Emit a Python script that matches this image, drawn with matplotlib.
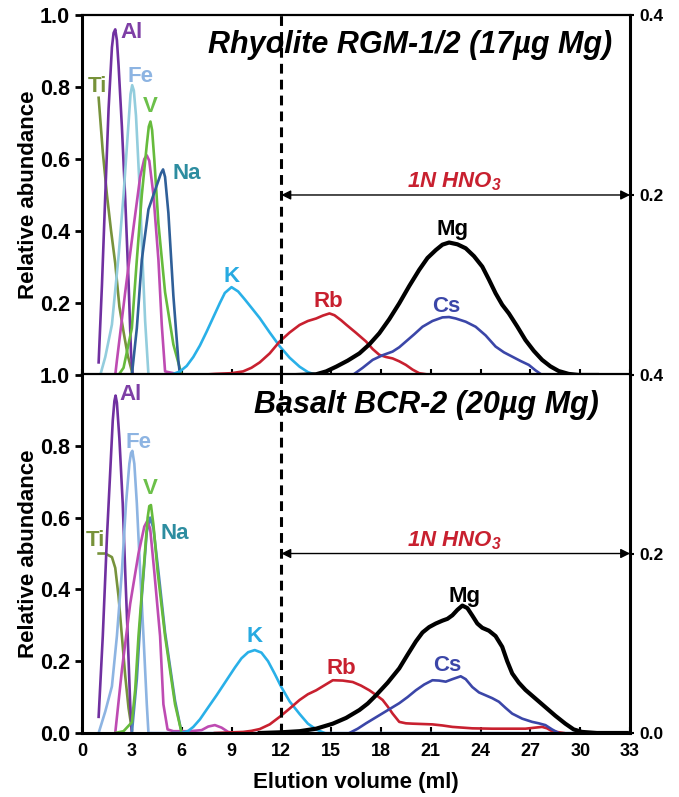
import matplotlib.pyplot as plt

plt.rcParams['font.family'] = ['Liberation Sans', 'DejaVu Sans']
plt.rcParams['font.weight'] = 'bold'

# ---- datos: panel superior (Riolita RGM-1/2) ----
ti_top_x = [1.0, 1.25, 1.5, 1.75, 2.0, 2.25, 2.5, 2.75, 3.0]
ti_top_y = [0.77, 0.62, 0.50, 0.40, 0.31, 0.19, 0.12, 0.055, 0.01]
al_top_x = [1.0, 1.2, 1.4, 1.6, 1.8, 1.9, 2.0, 2.1, 2.2, 2.4, 2.6, 2.8, 2.95, 3.05]
al_top_y = [0.035, 0.25, 0.50, 0.74, 0.91, 0.95, 0.96, 0.93, 0.86, 0.69, 0.49, 0.26, 0.06, 0.0]
fe_top_x = [1.1, 1.4, 1.8, 2.2, 2.5, 2.8, 2.92, 3.02, 3.12, 3.25, 3.5, 3.65, 3.8, 4.0]
fe_top_y = [0.0, 0.05, 0.14, 0.33, 0.50, 0.70, 0.78, 0.805, 0.79, 0.72, 0.49, 0.31, 0.15, 0.0]
mg2_top_x = [2.0, 2.1, 2.6, 3.1, 3.5, 3.75, 3.9, 4.05, 4.3, 4.6, 4.8, 5.0, 6.0]
mg2_top_y = [0.0, 0.04, 0.23, 0.41, 0.55, 0.60, 0.61, 0.595, 0.50, 0.32, 0.14, 0.01, 0.0]
v_top_x = [2.2, 2.5, 3.0, 3.3, 3.6, 3.9, 4.02, 4.12, 4.22, 4.35, 4.6, 5.0, 5.5, 6.0]
v_top_y = [0.0, 0.02, 0.13, 0.32, 0.50, 0.64, 0.69, 0.704, 0.68, 0.60, 0.42, 0.23, 0.085, 0.0]
na_top_x = [3.0, 3.3, 3.6, 4.0, 4.45, 4.75, 4.88, 5.0, 5.2, 5.5, 5.8, 5.9]
na_top_y = [0.0, 0.13, 0.32, 0.46, 0.52, 0.56, 0.571, 0.55, 0.45, 0.22, 0.04, 0.0]
k_top_x = [5.0, 5.5, 5.9, 6.3, 6.7, 7.1, 7.5, 7.9, 8.3, 8.6, 9.0, 9.4, 9.8, 10.2, 10.7, 11.3, 11.9, 12.5, 13.1, 13.6, 14.1]
k_top_y = [0.0, 0.003, 0.01, 0.025, 0.05, 0.082, 0.12, 0.16, 0.20, 0.228, 0.244, 0.232, 0.21, 0.187, 0.158, 0.118, 0.08, 0.048, 0.023, 0.008, 0.0]
rb_top_x = [7.0, 8.0, 9.0, 9.7, 10.2, 10.7, 11.3, 11.9, 12.5, 13.1, 13.6, 14.1, 14.5, 14.9, 15.2, 15.6, 15.9,
            16.5, 17.1, 17.5, 17.9, 18.3, 18.7, 19.1, 19.5, 19.9, 20.3, 21.0]
rb_top_y = [0.0, 0.003, 0.005, 0.01, 0.02, 0.035, 0.06, 0.093, 0.118, 0.139, 0.15, 0.157, 0.165, 0.171, 0.166, 0.152, 0.14,
            0.117, 0.093, 0.072, 0.056, 0.05, 0.046, 0.038, 0.028, 0.015, 0.005, 0.0]
cs_top_x = [16.3, 16.9, 17.5, 18.1, 18.7, 19.1, 19.5, 20.0, 20.5, 21.1, 21.7, 22.1, 22.5, 23.1, 23.7, 24.3, 24.9,
            25.4, 25.9, 26.4, 26.9, 27.3, 27.7]
cs_top_y = [0.0, 0.02, 0.042, 0.055, 0.065, 0.077, 0.093, 0.113, 0.134, 0.150, 0.160, 0.161, 0.157, 0.148, 0.134, 0.11, 0.079,
            0.063, 0.051, 0.039, 0.028, 0.013, 0.0]
mgk_top_x = [13.0, 14.1, 14.7, 15.3, 16.0, 16.7, 17.3, 17.9, 18.5, 19.1, 19.7, 20.3, 20.8, 21.3, 21.7, 22.1, 22.6,
             23.1, 23.6, 24.1, 24.5, 24.9, 25.3, 25.7, 26.2, 26.7, 27.2, 27.7, 28.2, 28.7, 29.3, 29.9, 31.0]
mgk_top_y = [0.0, 0.002, 0.01, 0.023, 0.04, 0.06, 0.085, 0.116, 0.155, 0.199, 0.247, 0.292, 0.325, 0.347, 0.362, 0.368, 0.363,
             0.352, 0.33, 0.301, 0.265, 0.227, 0.195, 0.171, 0.135, 0.097, 0.067, 0.042, 0.024, 0.011, 0.003, 0.0, 0.0]

# ---- datos: panel inferior (Basalto BCR-2) ----
ti_bot_x = [1.0, 1.4, 1.8, 2.0, 2.2, 2.4, 2.6, 2.8, 3.0]
ti_bot_y = [0.50, 0.50, 0.49, 0.46, 0.38, 0.27, 0.16, 0.07, 0.01]
al_bot_x = [1.0, 1.25, 1.5, 1.7, 1.85, 1.95, 2.02, 2.1, 2.25, 2.45, 2.6, 2.75, 2.9, 3.0]
al_bot_y = [0.045, 0.27, 0.545, 0.73, 0.87, 0.925, 0.94, 0.92, 0.82, 0.64, 0.45, 0.27, 0.08, 0.0]
fe_bot_x = [1.0, 1.4, 1.8, 2.1, 2.4, 2.65, 2.85, 2.95, 3.03, 3.15, 3.3, 3.5, 3.7, 3.9, 4.0, 33.0]
fe_bot_y = [0.0, 0.06, 0.13, 0.27, 0.45, 0.64, 0.75, 0.78, 0.786, 0.75, 0.64, 0.45, 0.27, 0.08, 0.0, 0.0]
mg2_bot_x = [2.0, 2.4, 2.9, 3.4, 3.75, 3.92, 4.1, 4.35, 4.7, 4.9, 5.15, 5.5, 6.5, 7.2, 7.6, 8.0, 8.4, 8.8, 9.2]
mg2_bot_y = [0.0, 0.175, 0.36, 0.50, 0.575, 0.59, 0.57, 0.45, 0.27, 0.08, 0.01, 0.005, 0.005, 0.008, 0.018, 0.022, 0.015, 0.003, 0.0]
na_bot_x = [3.0, 3.3, 3.6, 3.9, 4.1, 4.3, 4.6, 5.0, 5.6, 6.0]
na_bot_y = [0.0, 0.15, 0.38, 0.56, 0.60, 0.57, 0.45, 0.28, 0.09, 0.0]
v_bot_x = [2.0, 2.5, 3.0, 3.2, 3.4, 3.7, 3.95, 4.05, 4.15, 4.3, 4.55, 5.0, 5.6, 6.0]
v_bot_y = [0.0, 0.005, 0.03, 0.12, 0.27, 0.45, 0.60, 0.632, 0.635, 0.58, 0.45, 0.27, 0.08, 0.0]
k_bot_x = [5.5, 6.0, 6.4, 6.7, 7.1, 7.5, 8.1, 8.7, 9.2, 9.6, 10.0, 10.4, 10.8, 11.2, 11.6, 12.0, 12.5, 13.1, 13.6, 14.1, 14.6]
k_bot_y = [0.0, 0.0, 0.006, 0.017, 0.038, 0.065, 0.105, 0.147, 0.182, 0.208, 0.225, 0.231, 0.224, 0.2, 0.165, 0.128, 0.088, 0.053, 0.026, 0.01, 0.0]
rb_bot_x = [8.0, 9.7, 10.2, 10.7, 11.3, 11.9, 12.5, 13.1, 13.6, 14.1, 14.6, 15.1, 15.7, 16.3, 16.8, 17.3, 17.7, 18.1,
            18.4, 18.7, 19.1, 19.5, 19.9, 21.1, 21.7, 22.3, 23.5, 24.7, 26.7, 27.7, 28.0, 28.3, 29.0]
rb_bot_y = [0.0, 0.003, 0.006, 0.011, 0.024, 0.045, 0.068, 0.092, 0.108, 0.119, 0.133, 0.147, 0.146, 0.142, 0.132, 0.119, 0.106, 0.092,
            0.074, 0.054, 0.031, 0.027, 0.026, 0.024, 0.021, 0.017, 0.013, 0.012, 0.012, 0.017, 0.013, 0.005, 0.0]
cs_bot_x = [16.1, 16.6, 17.1, 18.1, 19.1, 19.6, 20.1, 20.6, 21.1, 21.5, 21.9, 22.3, 22.8, 23.1, 23.5, 23.9, 24.3, 24.7,
            25.1, 25.5, 25.9, 26.5, 27.1, 27.5, 27.9, 28.3, 28.7]
cs_bot_y = [0.0, 0.012, 0.027, 0.055, 0.083, 0.1, 0.119, 0.135, 0.147, 0.146, 0.143, 0.15, 0.158, 0.15, 0.128, 0.113, 0.105, 0.097,
            0.087, 0.07, 0.054, 0.04, 0.031, 0.027, 0.022, 0.01, 0.0]
mgk_bot_x = [10.7, 12.0, 13.1, 14.1, 15.1, 15.9, 16.7, 17.2, 17.7, 18.4, 19.1, 19.6, 20.1, 20.5, 20.9, 21.3, 21.7, 22.0,
             22.3, 22.6, 22.9, 23.2, 23.5, 23.8, 24.1, 24.5, 24.9, 25.3, 25.6, 25.9, 26.3, 26.7, 27.3, 27.9, 28.5,
             29.1, 29.6, 30.1, 31.0, 32.8]
mgk_bot_y = [0.0, 0.002, 0.005, 0.012, 0.026, 0.042, 0.064, 0.082, 0.105, 0.14, 0.18, 0.218, 0.255, 0.28, 0.295, 0.305, 0.313, 0.318,
             0.328, 0.343, 0.355, 0.348, 0.327, 0.305, 0.293, 0.285, 0.27, 0.24, 0.2, 0.166, 0.14, 0.12, 0.096, 0.072, 0.048,
             0.026, 0.01, 0.003, 0.0, 0.0]

xticks = [0, 3, 6, 9, 12, 15, 18, 21, 24, 27, 30, 33]

# colores
c_al = '#7030A0'
c_ti = '#77933C'
c_v = '#66BB3C'
c_mag = '#BE4BB2'
c_k = '#29B0E8'
c_rb = '#C8202F'
c_cs = '#3B46A8'

fig = plt.figure(figsize=(6.79, 7.97), dpi=100)
ax1 = fig.add_axes([0.1208, 0.5295, 0.8072, 0.4517])
ax2 = fig.add_axes([0.1208, 0.0803, 0.8072, 0.4504])

lw = 1.9
# panel superior
ax1.plot(ti_top_x, ti_top_y, color=c_ti, lw=lw)
ax1.plot(al_top_x, al_top_y, color=c_al, lw=lw)
ax1.plot(fe_top_x, fe_top_y, color='#93CDDD', lw=lw)
ax1.plot(mg2_top_x, mg2_top_y, color=c_mag, lw=lw)
ax1.plot(v_top_x, v_top_y, color=c_v, lw=lw)
ax1.plot(na_top_x, na_top_y, color='#2F5F98', lw=lw)
ax1.plot(k_top_x, k_top_y, color=c_k, lw=lw)
ax1.plot(rb_top_x, rb_top_y, color=c_rb, lw=lw)
ax1.plot(cs_top_x, cs_top_y, color=c_cs, lw=lw)
ax1.plot(mgk_top_x, mgk_top_y, color='black', lw=3.0)

# panel inferior
ax2.plot(ti_bot_x, ti_bot_y, color=c_ti, lw=lw)
ax2.plot(al_bot_x, al_bot_y, color=c_al, lw=lw)
ax2.plot(fe_bot_x, fe_bot_y, color='#8DB4E2', lw=lw)
ax2.plot(na_bot_x, na_bot_y, color='#4F81BD', lw=lw)
ax2.plot(mg2_bot_x, mg2_bot_y, color=c_mag, lw=lw)
ax2.plot(v_bot_x, v_bot_y, color=c_v, lw=lw)
ax2.plot(k_bot_x, k_bot_y, color=c_k, lw=lw)
ax2.plot(rb_bot_x, rb_bot_y, color=c_rb, lw=lw)
ax2.plot(cs_bot_x, cs_bot_y, color=c_cs, lw=lw)
ax2.plot(mgk_bot_x, mgk_bot_y, color='black', lw=3.0)

# etiquetas de elementos
fs = 16
etq_top = [('Ti', 0.9, 0.80, '#77923A'), ('Fe', 3.5, 0.83, '#8DB4E2'), ('V', 4.1, 0.745, '#6CC04A'),
           ('Na', 6.3, 0.56, '#2D8DA0'), ('K', 9.0, 0.273, '#27AAE1'), ('Rb', 14.8, 0.204, c_rb),
           ('Mg', 22.3, 0.403, 'black'), ('Cs', 21.9, 0.19, c_cs)]
etq_bot = [('Ti', 0.8, 0.536, '#77923A'), ('Fe', 3.4, 0.809, '#8DB4E2'), ('V', 4.1, 0.68, '#6CC04A'),
           ('Na', 5.6, 0.555, '#2D8DA0'), ('K', 10.4, 0.268, '#27AAE1'), ('Rb', 15.6, 0.18, c_rb),
           ('Mg', 23.0, 0.379, 'black'), ('Cs', 22.0, 0.189, c_cs)]
for t, x, y, c in etq_top:
    ax1.text(x, y, t, color=c, fontsize=fs, fontweight='bold', ha='center', va='center')
for t, x, y, c in etq_bot:
    ax2.text(x, y, t, color=c, fontsize=fs, fontweight='bold', ha='center', va='center')
ax1.text(2.3, 0.95, 'Al', color='#7E3FA6', fontsize=fs, fontweight='bold', ha='left', va='center')
ax2.text(2.25, 0.944, 'Al', color='#7E3FA6', fontsize=fs, fontweight='bold', ha='left', va='center')

# titulos
ax1.text(31.9, 0.917, 'Rhyolite RGM-1/2 (17µg Mg)', fontsize=22, fontweight='bold',
         fontstyle='italic', ha='right', va='center')
ax2.text(31.1, 0.914, 'Basalt BCR-2 (20µg Mg)', fontsize=22, fontweight='bold',
         fontstyle='italic', ha='right', va='center')

for ax in (ax1, ax2):
    ax.set_xlim(0, 33)
    ax.set_ylim(0, 1.0)
    ax.axvline(12, color='black', lw=2.2, ls=(0, (3.2, 2)), zorder=5)
    ax.annotate('', xy=(33, 0.5), xytext=(12, 0.5),
                arrowprops=dict(arrowstyle='<|-|>', lw=1.0, color='black',
                                shrinkA=0, shrinkB=0, mutation_scale=14))
    ax.text(22.4, 0.537, '1N HNO$_\\mathregular{3}$', color=c_rb, fontsize=16,
            fontweight='bold', fontstyle='italic', ha='center', va='center')
    for s in ax.spines.values():
        s.set_linewidth(2.2)
    ax.spines['top'].set_linewidth(1.6)
    ax.set_xticks(xticks)
    ax.tick_params(axis='x', direction='in', length=4, width=1.5, pad=7)
    ax.tick_params(axis='y', direction='out', length=5, width=2, labelsize=15.5)
    ax.set_ylabel('Relative abundance', fontsize=16, fontweight='bold')
    ax.yaxis.set_label_coords(-0.078, 0.5)

ax1.set_yticks([0, 0.2, 0.4, 0.6, 0.8, 1.0])
ax1.set_yticklabels(['1.0', '0.2', '0.4', '0.6', '0.8', '1.0'])
ax1.tick_params(axis='x', labelbottom=False)
ax2.set_yticks([0, 0.2, 0.4, 0.6, 0.8])
ax2.set_yticklabels(['0.0', '0.2', '0.4', '0.6', '0.8'])
ax2.tick_params(axis='x', labelsize=13)
ax2.set_xlabel('Elution volume (ml)', fontsize=16, fontweight='bold', labelpad=9)

# ejes secundarios a la derecha
ax1r = ax1.twinx()
ax1r.set_ylim(0, 0.4)
ax1r.set_yticks([0, 0.2, 0.4])
ax1r.set_yticklabels(['0.4', '0.2', '0.4'])
ax2r = ax2.twinx()
ax2r.set_ylim(0, 0.4)
ax2r.set_yticks([0, 0.2])
ax2r.set_yticklabels(['0.0', '0.2'])
for axr in (ax1r, ax2r):
    axr.tick_params(axis='y', direction='out', length=3, width=1.5, labelsize=12.5)
    for s in axr.spines.values():
        s.set_visible(False)

plt.savefig('out.png', dpi=100)
